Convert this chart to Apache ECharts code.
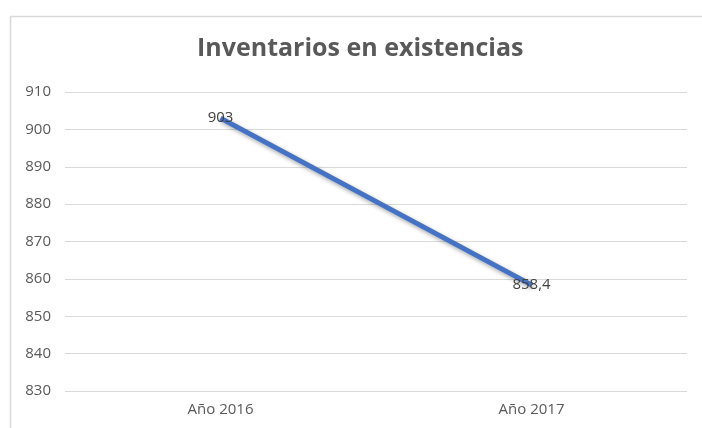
<!DOCTYPE html>
<html>
<head>
<meta charset="utf-8">
<script src="https://cdn.jsdelivr.net/npm/echarts@6/dist/echarts.min.js"></script>
<style>
  html, body { margin: 0; padding: 0; background: #fff; }
  #chart { width: 702px; height: 428px; }
</style>
</head>
<body>
<div id="chart"></div>
<script>
// datos
const titulo = 'Inventarios en existencias'
const categorias = ['Año 2016', 'Año 2017']
const inventarios = [903, 858.4]
const ejeMin = 830
const ejeMax = 910
const ejeIntervalo = 10

const chart = echarts.init(document.getElementById('chart'))

const option = {
  animation: false,
  backgroundColor: '#fff',
  textStyle: { fontFamily: 'Open Sans' },
  graphic: [
    {
      type: 'rect',
      left: 8,
      top: 14,
      shape: { width: 720, height: 440 },
      style: { fill: 'none', stroke: '#d9d9d9', lineWidth: 1.5 },
      silent: true
    }
  ],
  title: {
    text: titulo,
    left: 192,
    top: 31,
    textStyle: {
      fontFamily: 'Open Sans',
      fontSize: 25,
      fontWeight: 'bold',
      color: '#595959'
    }
  },
  grid: {
    left: 65,
    right: 15,
    top: 92,
    bottom: 37
  },
  xAxis: {
    type: 'category',
    data: categorias,
    boundaryGap: true,
    axisLine: { show: false },
    axisTick: { show: false },
    axisLabel: { color: '#595959', fontSize: 15, margin: 11 }
  },
  yAxis: {
    type: 'value',
    min: ejeMin,
    max: ejeMax,
    interval: ejeIntervalo,
    axisLine: { show: false },
    axisTick: { show: false },
    axisLabel: { color: '#595959', fontSize: 15, margin: 14 },
    splitLine: { lineStyle: { color: '#d9d9d9', width: 1 } }
  },
  series: [
    {
      type: 'line',
      data: inventarios,
      symbol: 'circle',
      symbolSize: 0,
      itemStyle: { color: '#4472C4' },
      lineStyle: {
        color: '#4472C4',
        width: 5,
        shadowColor: 'rgba(0,0,0,0.35)',
        shadowBlur: 4,
        shadowOffsetX: 1,
        shadowOffsetY: 2
      },
      label: {
        show: true,
        position: 'inside',
        color: '#404040',
        fontSize: 15,
        formatter: (p) => String(p.value).replace('.', ',')
      }
    }
  ]
}

chart.setOption(option)
</script>
</body>
</html>
